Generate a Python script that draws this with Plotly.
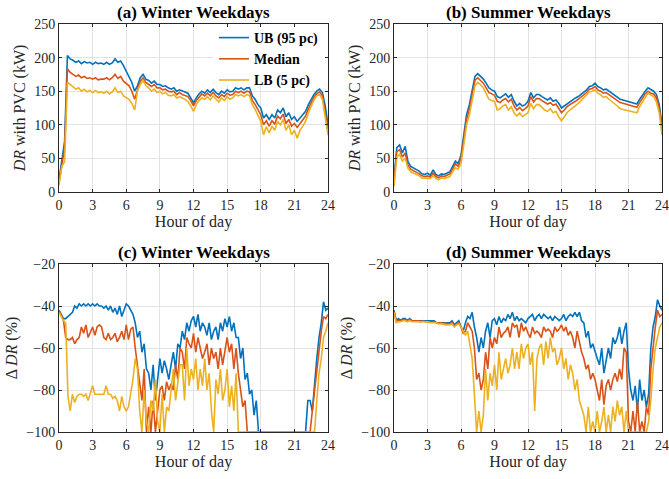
import plotly.graph_objects as go

# ---------------- data ----------------
# top panels: 15-min resolution, bottom panels: 12-min resolution
hours_top = [i * 0.25 for i in range(97)]
hours_bot = [i * 0.2 for i in range(121)]

ub_winter = [18, 48, 75, 203, 198, 196, 193, 195, 191, 194, 192, 193, 190, 193, 191, 192,
             190, 193, 190, 192, 198, 193, 195, 188, 180, 172, 163, 150, 158, 170, 175, 168,
             166, 162, 165, 160, 160, 157, 158, 155, 153, 155, 150, 152, 150, 148, 147, 140,
             133, 140, 146, 150, 147, 152, 148, 153, 148, 145, 150, 147, 152, 149, 150, 155,
             153, 155, 152, 155, 155, 143, 138, 130, 125, 110, 115, 108, 115, 110, 122, 118,
             125, 112, 118, 108, 112, 105, 110, 115, 120, 130, 138, 145, 150, 153, 148, 128, 100]
med_winter = [14, 40, 65, 183, 178, 175, 172, 174, 170, 172, 169, 170, 168, 170, 167, 168,
              168, 170, 167, 170, 175, 169, 172, 165, 162, 158, 150, 138, 152, 165, 170, 163,
              160, 157, 160, 155, 155, 152, 153, 150, 149, 150, 145, 148, 145, 143, 142, 136,
              128, 136, 141, 146, 143, 147, 143, 148, 143, 140, 145, 142, 147, 144, 145, 150,
              148, 150, 147, 150, 149, 136, 130, 122, 115, 100, 106, 98, 106, 101, 113, 109,
              116, 102, 108, 98, 102, 96, 102, 107, 113, 124, 133, 141, 146, 149, 143, 120, 93]
lb_winter = [10, 38, 45, 163, 160, 157, 153, 155, 150, 153, 149, 151, 148, 151, 148, 149,
             147, 150, 146, 149, 155, 148, 150, 143, 140, 138, 132, 122, 150, 160, 166, 158,
             155, 150, 153, 148, 150, 146, 148, 144, 143, 145, 140, 142, 140, 137, 135, 128,
             120, 130, 136, 140, 138, 142, 137, 143, 138, 134, 140, 136, 142, 138, 140, 145,
             143, 145, 142, 145, 143, 130, 123, 115, 105, 85, 97, 88, 98, 92, 105, 100,
             108, 92, 100, 85, 92, 80, 92, 98, 105, 118, 128, 137, 143, 145, 138, 112, 85]

ub_summer = [20, 66, 70, 58, 68, 45, 38, 36, 34, 31, 27, 26, 28, 25, 33, 26,
             24, 27, 26, 28, 30, 38, 46, 42, 55, 85, 115, 130, 150, 172, 176, 172,
             168, 162, 155, 152, 150, 142, 140, 143, 146, 141, 145, 135, 128, 132, 128, 130,
             135, 148, 140, 145, 145, 142, 140, 137, 140, 135, 137, 132, 125, 128, 132, 135,
             137, 140, 142, 145, 148, 152, 157, 158, 162, 157, 155, 152, 153, 150, 147, 144,
             140, 138, 137, 136, 135, 133, 132, 131, 138, 145, 150, 155, 152, 150, 145, 130, 100]
med_summer = [15, 60, 63, 52, 58, 40, 34, 32, 30, 27, 24, 23, 24, 22, 28, 23,
              21, 24, 23, 25, 27, 34, 42, 38, 50, 78, 108, 123, 143, 166, 170, 166,
              162, 155, 148, 146, 144, 135, 133, 137, 139, 134, 138, 128, 122, 126, 121, 124,
              128, 142, 134, 139, 139, 136, 133, 131, 133, 129, 131, 125, 118, 122, 127, 130,
              132, 135, 138, 141, 144, 148, 153, 154, 157, 152, 150, 147, 148, 145, 142, 139,
              135, 133, 132, 131, 130, 128, 127, 126, 133, 140, 146, 150, 147, 146, 140, 125, 95]
lb_summer = [8, 52, 56, 46, 50, 35, 30, 28, 27, 24, 21, 21, 21, 20, 24, 20,
             18, 21, 20, 22, 23, 30, 36, 34, 42, 70, 100, 115, 135, 158, 163, 160,
             155, 146, 138, 136, 135, 122, 124, 128, 130, 122, 127, 118, 113, 118, 112, 115,
             118, 132, 124, 130, 130, 126, 122, 120, 124, 118, 120, 112, 106, 112, 118, 122,
             125, 128, 132, 136, 140, 144, 149, 150, 152, 147, 145, 141, 142, 138, 135, 132,
             128, 124, 123, 122, 122, 120, 119, 118, 127, 135, 141, 147, 144, 142, 134, 118, 85]

dub_winter = [-42, -44, -46, -46, -45, -44, -43, -40, -41, -39, -40, -39, -40, -39, -40,
              -39, -40, -39, -40, -40, -41, -40, -42, -40, -43, -41, -44, -40, -45, -42,
              -39, -40, -42, -44, -48, -55, -52, -62, -58, -70, -72, -80, -68, -85, -75,
              -65, -72, -66, -70, -75, -68, -62, -70, -58, -60, -52, -56, -48, -52, -47,
              -45, -50, -44, -52, -48, -50, -54, -48, -56, -52, -50, -56, -48, -52, -46,
              -50, -45, -52, -48, -55, -55, -65, -60, -75, -72, -82, -80, -92, -85, -100,
              -100, -100, -100, -100, -100, -100, -100, -100, -100, -100, -100, -100, -100, -100, -100,
              -100, -100, -100, -100, -100, -100, -85, -85, -90, -75, -65, -55, -48, -38, -42, -41]
dmed_winter = [-42, -45, -47, -55, -56, -56, -55, -58, -56, -55, -50, -53, -49, -55, -52,
               -50, -54, -50, -49, -50, -55, -56, -53, -56, -55, -53, -57, -55, -52, -56,
               -49, -56, -51, -50, -60, -68, -75, -85, -70, -100, -88, -100, -85, -100, -90,
               -80, -78, -85, -76, -80, -77, -80, -68, -75, -60, -62, -70, -55, -58, -60,
               -53, -62, -55, -60, -65, -62, -58, -68, -60, -65, -62, -70, -60, -68, -62,
               -55, -62, -58, -70, -60, -72, -80, -88, -85, -100, -100, -100, -100, -100, -100,
               -100, -100, -100, -100, -100, -100, -100, -100, -100, -100, -100, -100, -100, -100, -100,
               -100, -100, -100, -100, -100, -100, -100, -100, -90, -80, -70, -60, -52, -45, -46, -44]
dlb_winter = [-43, -45, -47, -48, -83, -90, -82, -86, -83, -82, -82, -83, -82, -85, -82,
              -78, -82, -82, -82, -82, -82, -78, -82, -82, -84, -83, -85, -90, -83, -88,
              -90, -88, -82, -75, -65, -70, -90, -100, -80, -95, -100, -85, -90, -75, -95,
              -100, -82, -100, -88, -90, -80, -70, -85, -75, -68, -68, -85, -60, -78, -70,
              -75, -65, -80, -70, -78, -65, -80, -72, -90, -100, -75, -82, -70, -85, -80,
              -70, -88, -78, -90, -72, -100, -100, -100, -100, -100, -100, -100, -100, -100, -100,
              -100, -100, -100, -100, -100, -100, -100, -100, -100, -100, -100, -100, -100, -100, -100,
              -100, -100, -100, -100, -100, -100, -100, -100, -100, -100, -85, -72, -65, -55, -52, -48]

dub_summer = [-42, -47, -46, -47, -46, -46, -47, -46, -47, -47, -47, -47, -47, -47, -47,
              -47, -47, -47, -47, -48, -48, -48, -48, -48, -48, -48, -47, -49, -48, -47,
              -50, -52, -48, -45, -46, -43, -50, -55, -62, -55, -60, -52, -48, -55, -47,
              -46, -49, -45, -48, -46, -47, -44, -46, -43, -47, -45, -47, -46, -47, -48,
              -46, -45, -44, -47, -45, -44, -46, -44, -45, -46, -45, -47, -45, -46, -47,
              -46, -44, -47, -45, -44, -45, -43, -45, -43, -47, -48, -55, -52, -60, -58,
              -62, -65, -68, -60, -72, -65, -60, -65, -55, -58, -55, -50, -58, -52, -48,
              -70, -80, -85, -78, -90, -75, -85, -80, -88, -82, -60, -50, -45, -37, -40, -42]
dmed_summer = [-43, -47, -47, -47, -46.5, -46.5, -47, -46.5, -47, -47, -47, -47, -47.5, -47, -47.5,
               -47.5, -47.5, -47.5, -47.5, -48, -48, -48, -48.5, -48, -48.5, -48.5, -48, -49.5, -48.5, -48,
               -50, -53, -52, -48, -50, -52, -60, -75, -72, -80, -75, -62, -70, -55, -60,
               -55, -58, -50, -55, -53, -52, -50, -55, -48, -50, -49, -55, -48, -52, -50,
               -53, -55, -50, -53, -52, -53, -55, -50, -52, -51, -52, -55, -50, -52, -51,
               -49, -52, -50, -54, -52, -55, -60, -52, -58, -62, -65, -70, -68, -75, -72,
               -75, -80, -85, -75, -87, -78, -75, -80, -75, -72, -76, -70, -75, -60, -62,
               -95, -100, -90, -100, -85, -100, -95, -100, -88, -92, -70, -58, -50, -42, -45, -44]
dlb_summer = [-43, -48, -47.5, -47.5, -47, -47, -47.5, -47, -47.5, -47.5, -47.5, -47.5, -47.5, -47.5, -47.5,
              -47.5, -48, -48, -48, -48, -48.5, -48.5, -48.5, -49, -49, -49, -48.5, -50, -49, -48.5,
              -50, -52, -54, -52, -58, -65, -82, -100, -90, -100, -92, -70, -85, -72, -78,
              -68, -80, -62, -75, -70, -65, -72, -68, -60, -70, -62, -70, -58, -65, -60,
              -58, -68, -62, -90, -65, -60, -58, -68, -57, -65, -55, -62, -60, -68, -65,
              -60, -70, -65, -75, -68, -72, -80, -75, -85, -88, -92, -100, -88, -100, -95,
              -100, -90, -100, -95, -88, -100, -92, -100, -88, -95, -85, -92, -88, -100, -90,
              -100, -100, -100, -100, -100, -100, -100, -100, -100, -95, -85, -70, -60, -55, -50, -48]

series_names = ["UB (95 pc)", "Median", "LB (5 pc)"]
colors = ["#0072BD", "#D95319", "#EDB120"]
x_ticks = [0, 3, 6, 9, 12, 15, 18, 21, 24]
titles = ["(a) Winter Weekdays", "(b) Summer Weekdays",
          "(c) Winter Weekdays", "(d) Summer Weekdays"]

# ---------------- figure ----------------
W, H = 669, 479
FONT = "Liberation Serif"
fig = go.Figure()

panels = [
    (1, hours_top, [ub_winter, med_winter, lb_winter]),
    (2, hours_top, [ub_summer, med_summer, lb_summer]),
    (3, hours_bot, [dub_winter, dmed_winter, dlb_winter]),
    (4, hours_bot, [dub_summer, dmed_summer, dlb_summer]),
]
for idx, xs, ys in panels:
    sfx = "" if idx == 1 else str(idx)
    for k in range(3):
        fig.add_trace(go.Scatter(
            x=xs, y=ys[k], mode="lines", name=series_names[k],
            line=dict(color=colors[k], width=1.6),
            xaxis="x" + sfx, yaxis="y" + sfx,
            showlegend=(idx == 1)))

# axes domains (pixel-derived)
xl = [59 / W, 328 / W]
xr = [394 / W, 662 / W]
yt = [(H - 192) / H, (H - 24) / H]
yb = [(H - 432) / H, (H - 264) / H]

axis_common = dict(
    showline=True, linecolor="#262626", linewidth=1, mirror="ticks",
    ticks="inside", ticklen=3, tickcolor="#262626", automargin=False,
    showgrid=True, gridcolor="#e3e3e3", gridwidth=1, zeroline=False,
    tickfont=dict(family=FONT, size=14, color="#262626"),
)
xcommon = dict(axis_common, range=[0, 24], tickvals=x_ticks,
               title=dict(text="Hour of day", font=dict(family=FONT, size=16, color="#262626"),
                          standoff=2))
ylab_top = "<i>DR</i> with PVC (kW)"
ylab_bot = "\u0394 <i>DR</i> (%)"

fig.update_layout(
    width=W, height=H,
    margin=dict(l=0, r=0, t=0, b=0, autoexpand=False),
    paper_bgcolor="white", plot_bgcolor="white",
    font=dict(family=FONT, color="#262626"),
    xaxis=dict(xcommon, domain=xl, anchor="y"),
    yaxis=dict(axis_common, domain=yt, anchor="x", range=[0, 250], dtick=50,
               title=dict(text=ylab_top, font=dict(family=FONT, size=16, color="#262626"), standoff=4)),
    xaxis2=dict(xcommon, domain=xr, anchor="y2"),
    yaxis2=dict(axis_common, domain=yt, anchor="x2", range=[0, 250], dtick=50,
                title=dict(text=ylab_top, font=dict(family=FONT, size=16, color="#262626"), standoff=4)),
    xaxis3=dict(xcommon, domain=xl, anchor="y3"),
    yaxis3=dict(axis_common, domain=yb, anchor="x3", range=[-100, -20], dtick=20,
                title=dict(text=ylab_bot, font=dict(family=FONT, size=16, color="#262626"), standoff=4)),
    xaxis4=dict(xcommon, domain=xr, anchor="y4"),
    yaxis4=dict(axis_common, domain=yb, anchor="x4", range=[-100, -20], dtick=20,
                title=dict(text=ylab_bot, font=dict(family=FONT, size=16, color="#262626"), standoff=4)),
    legend=dict(x=214 / W, xanchor="left", y=(H - 22) / H, yanchor="top",
                bgcolor="rgba(255,255,255,0)", borderwidth=0, tracegroupgap=0,
                font=dict(family=FONT, size=14, color="black", weight="bold"),
                itemwidth=30),
    showlegend=True,
)

# white patch behind the legend hiding the grid (drawn below the data lines)
fig.add_shape(type="rect", xref="x", yref="y", x0=13.8, x1=23.9, y0=158, y1=249,
              fillcolor="white", line=dict(width=0), layer="between")

# panel titles
centers = [((xl[0] + xl[1]) / 2, yt[1]), ((xr[0] + xr[1]) / 2, yt[1]),
           ((xl[0] + xl[1]) / 2, yb[1]), ((xr[0] + xr[1]) / 2, yb[1])]
for (cx, cy), t in zip(centers, titles):
    fig.add_annotation(x=cx, y=cy, xref="paper", yref="paper", text="<b>" + t + "</b>",
                       showarrow=False, xanchor="center", yanchor="bottom", yshift=0,
                       font=dict(family=FONT, size=17, color="black"))

# the page's default body margin would offset the 669x479 figure; remove it
fig.write_html("out.html", config={"displayModeBar": False},
               post_script="document.body.style.margin='0px';")
